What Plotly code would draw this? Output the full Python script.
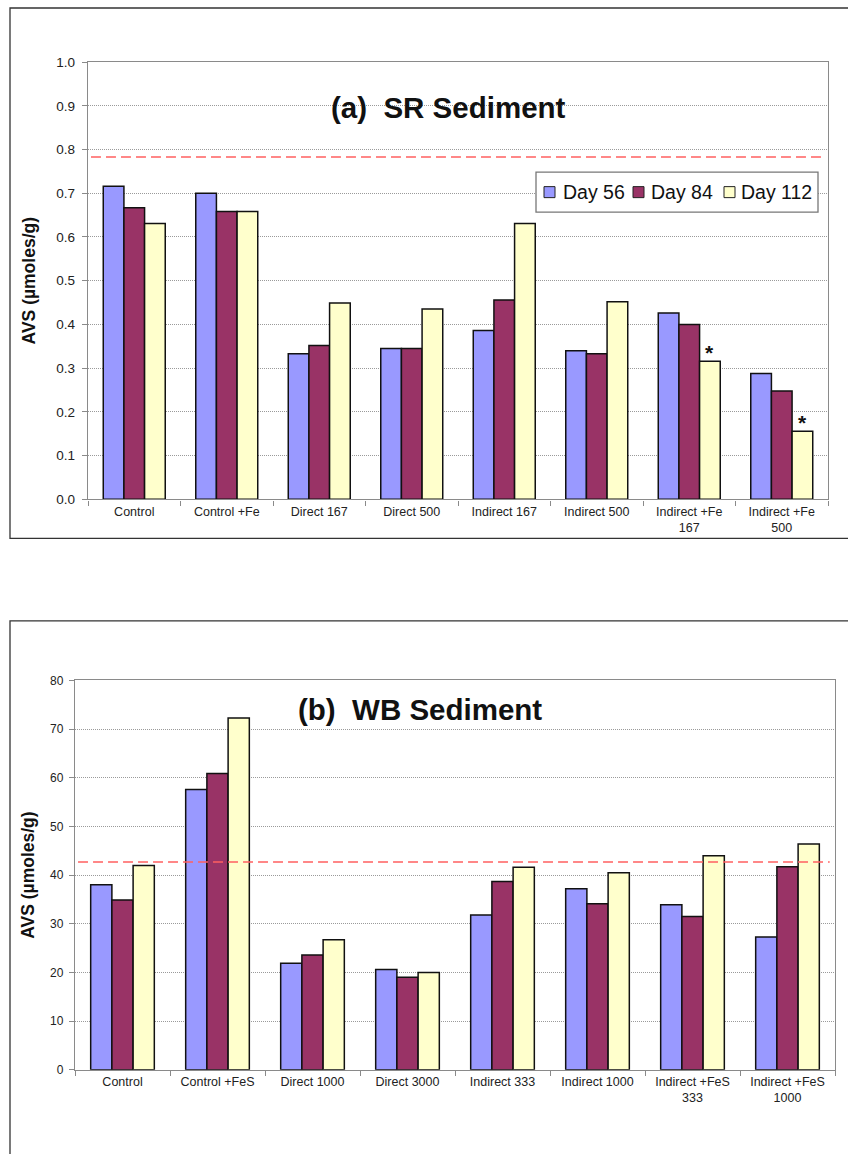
import plotly.graph_objects as go

# ---- data -------------------------------------------------------------
days = ["Day 56", "Day 84", "Day 112"]
day_colors = ["#9999FF", "#993366", "#FFFFCC"]

sr_categories = ["Control", "Control +Fe", "Direct 167", "Direct 500",
                 "Indirect 167", "Indirect 500", "Indirect +Fe<br>167",
                 "Indirect +Fe<br>500"]
sr_day56 = [0.716, 0.700, 0.333, 0.345, 0.386, 0.340, 0.426, 0.288]
sr_day84 = [0.667, 0.658, 0.352, 0.345, 0.456, 0.333, 0.400, 0.248]
sr_day112 = [0.631, 0.658, 0.449, 0.435, 0.631, 0.452, 0.316, 0.156]
sr_reference = 0.783
sr_starred = [6, 7]  # groups flagged with an asterisk on Day 112

wb_categories = ["Control", "Control +FeS", "Direct 1000", "Direct 3000",
                 "Indirect 333", "Indirect 1000", "Indirect +FeS<br>333",
                 "Indirect +FeS<br>1000"]
wb_day56 = [38.0, 57.6, 21.9, 20.6, 31.8, 37.2, 33.9, 27.3]
wb_day84 = [34.9, 60.9, 23.6, 19.0, 38.7, 34.1, 31.5, 41.7]
wb_day112 = [42.0, 72.3, 26.7, 20.0, 41.6, 40.5, 44.0, 46.4]
wb_reference = 42.7

sr_ticks = [0.0, 0.1, 0.2, 0.3, 0.4, 0.5, 0.6, 0.7, 0.8, 0.9, 1.0]
wb_ticks = [0, 10, 20, 30, 40, 50, 60, 70, 80]

# ---- layout helpers ---------------------------------------------------
W, H = 848, 1154
FONT = "Liberation Sans, Arial, sans-serif"
BARGAP = 0.33
Y_OFF, Y_SCALE = 8.0, 0.9863   # page offset / scale of the rendered figure


def px_x(p):
    return p / W


def px_y(p):
    return 1 - ((p - Y_OFF) / Y_SCALE) / H


fig = go.Figure()

sr_series = [sr_day56, sr_day84, sr_day112]
wb_series = [wb_day56, wb_day84, wb_day112]
for name, color, vals in zip(days, day_colors, sr_series):
    fig.add_trace(go.Bar(
        x=sr_categories, y=vals, name=name, xaxis="x", yaxis="y",
        marker=dict(color=color, line=dict(color="#111111", width=1.5)),
        showlegend=False,
    ))
for name, color, vals in zip(days, day_colors, wb_series):
    fig.add_trace(go.Bar(
        x=wb_categories, y=vals, name=name, xaxis="x2", yaxis="y2",
        marker=dict(color=color, line=dict(color="#111111", width=1.5)),
        showlegend=False,
    ))

line_common = dict(showline=True, linecolor="#8a8a8a", linewidth=1.3,
                   mirror=True)
xtick_font = dict(family=FONT, size=12.5, color="#222222")
grid_common = dict(showgrid=True, gridcolor="#9a9a9a", griddash="1px,1px",
                   gridwidth=1, zeroline=False)
ytitle_font = dict(family=FONT, size=17.5, color="#111111")

fig.update_layout(
    width=W, height=H,
    margin=dict(l=0, r=0, t=0, b=0),
    paper_bgcolor="white", plot_bgcolor="white",
    font=dict(family=FONT, color="#111111"),
    barmode="group", bargap=BARGAP, bargroupgap=0,
    showlegend=False,
    xaxis=dict(domain=[px_x(88), px_x(828)], anchor="y", type="category",
               ticks="outside", ticklen=5, tickcolor="#8a8a8a",
               tickson="boundaries", showgrid=False,
               tickfont=xtick_font, **line_common),
    yaxis=dict(domain=[px_y(500), px_y(63)], anchor="x", range=[0, 1.0],
               tickvals=sr_ticks, tickformat=".1f",
               ticks="outside", ticklen=5, tickcolor="#8a8a8a",
               ticklabelstandoff=4,
               tickfont=dict(family=FONT, size=13.5, color="#222222"),
               title=dict(text="<b>AVS (µmoles/g)</b>", font=ytitle_font,
                          standoff=16),
               **grid_common, **line_common),
    xaxis2=dict(domain=[px_x(75), px_x(835)], anchor="y2", type="category",
                ticks="outside", ticklen=5, tickcolor="#8a8a8a",
                tickson="boundaries", showgrid=False,
                tickfont=xtick_font, **line_common),
    yaxis2=dict(domain=[px_y(1070), px_y(681)], anchor="x2", range=[0, 80],
                tickvals=wb_ticks,
                ticks="outside", ticklen=5, tickcolor="#8a8a8a",
                ticklabelstandoff=3,
                tickfont=dict(family=FONT, size=12, color="#222222"),
                title=dict(text="<b>AVS (µmoles/g)</b>", font=ytitle_font,
                           standoff=10),
                **grid_common, **line_common),
)

# reference levels (dashed red)
fig.add_shape(type="line", xref="x domain", yref="y",
              x0=0.004, x1=0.993, y0=sr_reference, y1=sr_reference,
              line=dict(color="#FF6060", width=1.5, dash="10px,5px"))
fig.add_shape(type="line", xref="x2 domain", yref="y2",
              x0=0.004, x1=0.993, y0=wb_reference, y1=wb_reference,
              line=dict(color="#FF6060", width=1.5, dash="10px,5px"))

# panel frames
frame = dict(color="#333333", width=1.3)
fig.add_shape(type="rect", xref="paper", yref="paper",
              x0=px_x(10), x1=1.02, y0=px_y(539), y1=1 - 1 / H, line=frame)
fig.add_shape(type="rect", xref="paper", yref="paper",
              x0=px_x(10), x1=1.02, y0=-0.02, y1=px_y(621.5), line=frame)

# panel titles
fig.add_annotation(xref="paper", yref="paper", x=px_x(448), y=px_y(90),
                   text="<b>(a)  SR Sediment</b>", showarrow=False,
                   font=dict(family=FONT, size=29.5, color="#111111"))
fig.add_annotation(xref="paper", yref="paper", x=px_x(419.5), y=px_y(710),
                   text="<b>(b)  WB Sediment</b>", showarrow=False,
                   font=dict(family=FONT, size=29.5, color="#111111"))

# legend box for the day series (top panel)
fig.add_shape(type="rect", xref="paper", yref="paper",
              x0=px_x(536), x1=px_x(818), y0=px_y(213), y1=px_y(173),
              line=dict(color="#777777", width=1.3), fillcolor="white")
swatch_x = [544, 633, 724]
label_x = [561, 649, 739]
for name, color, sx, lx in zip(days, day_colors, swatch_x, label_x):
    fig.add_shape(type="rect", xref="paper", yref="paper",
                  x0=px_x(sx), x1=px_x(sx + 11),
                  y0=px_y(198.5), y1=px_y(187.5),
                  line=dict(color="#222222", width=1), fillcolor=color)
    fig.add_annotation(xref="paper", yref="paper", x=px_x(lx), y=px_y(193),
                       xanchor="left", yanchor="middle", showarrow=False,
                       text=name,
                       font=dict(family=FONT, size=19.5, color="#111111"))

# asterisks over flagged Day 112 bars
bar_w = (1 - BARGAP) / 3
for i in sr_starred:
    fig.add_annotation(xref="x", yref="y", x=i + bar_w, y=sr_day112[i],
                       text="<b>*</b>", showarrow=False, yanchor="bottom",
                       yshift=-5,
                       font=dict(family=FONT, size=21, color="#111111"))

fig.write_html("out.html")
